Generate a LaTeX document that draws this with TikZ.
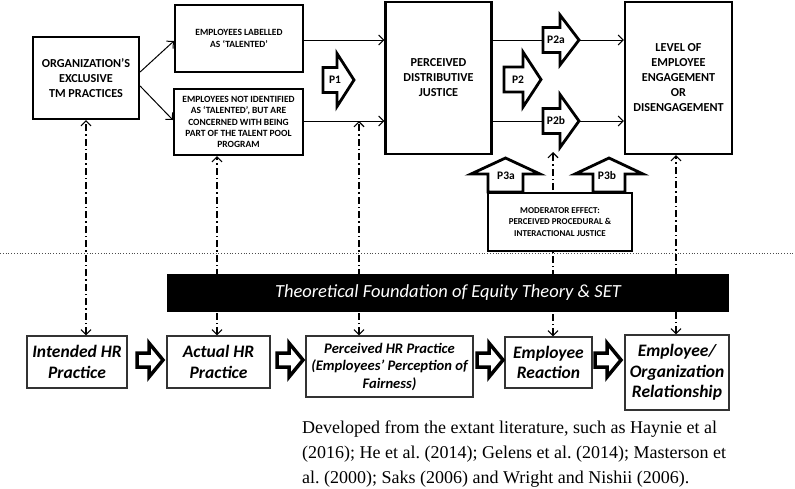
\documentclass[tikz,border=0pt]{standalone}
\usepackage{fontspec}
\setmainfont{Carlito}
\newfontfamily\capfont{Liberation Serif}
\usetikzlibrary{arrows.meta,calc}
\frenchspacing
\begin{document}
\begin{tikzpicture}[x=1pt,y=-1pt,
  topbox/.style={draw, line width=2.2pt, fill=white, align=center, inner sep=0pt, font=\bfseries\fontsize{12.2}{15}\selectfont},
  smallbox/.style={topbox, font=\bfseries\fontsize{9.5}{11.3}\selectfont},
  botbox/.style={draw=black!80, line width=1.2pt, fill=white, align=center, inner sep=0pt, font=\bfseries\itshape\fontsize{17.5}{20.5}\selectfont},
  conn/.style={line width=1pt, -{Straight Barb[length=5pt,width=10pt]}},
  dd/.style={line width=1.1pt, dash pattern=on 7pt off 3pt on 1.5pt off 3pt, {Straight Barb[length=5pt,width=10pt]}-{Straight Barb[length=5pt,width=10pt]}},
  blk/.style={draw, line width=2.8pt, fill=white, line join=miter},
  bblk/.style={draw, line width=3.5pt, fill=white, line join=miter},
  plab/.style={font=\bfseries\fontsize{11.5}{13}\selectfont, inner sep=0pt},
  pics/rblk/.style n args={5}{code={
    \draw[#5] (0,-#1) -- (#2,-#1) -- (#2,-#3) -- ({#2+#4},0) -- (#2,#3) -- (#2,#1) -- (0,#1) -- cycle;}},
  pics/ublk/.style n args={4}{code={
    \draw[blk] (-#1,0) -- (-#1,-#2) -- (-#3,-#2) -- (0,{-#2-#4}) -- (#3,-#2) -- (#1,-#2) -- (#1,0) -- cycle;}}
]
\useasboundingbox (0,0) rectangle (795,488);

% dotted separator
\draw[line width=0.8pt, dotted, black!70] (0,253) -- (795,253);

% top boxes
\node[topbox, minimum width=106pt, minimum height=82pt] (org) at (86,78) {ORGANIZATION’S\\EXCLUSIVE\\TM PRACTICES};
\node[smallbox, minimum width=128pt, minimum height=67pt] (lab) at (239,38.5) {EMPLOYEES LABELLED\\AS ‘TALENTED’};
\node[smallbox, minimum width=129pt, minimum height=66pt] (nid) at (238.5,122) {EMPLOYEES NOT IDENTIFIED\\AS ‘TALENTED’, BUT ARE\\CONCERNED WITH BEING\\PART OF THE TALENT POOL\\PROGRAM};
\node[topbox, minimum width=106pt, minimum height=152pt] (pdj) at (438.5,78) {PERCEIVED\\DISTRIBUTIVE\\JUSTICE};
\node[topbox, minimum width=107pt, minimum height=152pt] (lvl) at (678.5,78) {LEVEL OF\\EMPLOYEE\\ENGAGEMENT\\OR\\DISENGAGEMENT};

% bottom boxes
\node[botbox, minimum width=100pt, minimum height=52pt] (ihr) at (77,362) {Intended HR\\Practice};
\node[botbox, minimum width=103pt, minimum height=52pt] (ahr) at (218.5,362) {Actual HR\\Practice};
\node[botbox, minimum width=167pt, minimum height=61pt, font=\bfseries\itshape\fontsize{14.6}{17.5}\selectfont] (phr) at (389.5,366.5) {Perceived HR Practice\\(Employees’ Perception of\\Fairness)};
\node[botbox, minimum width=87pt, minimum height=51pt] (erc) at (548.5,362.5) {Employee\\Reaction};
\node[botbox, minimum width=104pt, minimum height=75pt] (eor) at (677,372.5) {Employee/\\Organization\\Relationship};

% connectors top
\draw[conn] ([yshift=6pt]org.east) -- ([yshift=-2.5pt]lab.west);
\draw[conn] ([yshift=-8pt]org.east) -- ([yshift=2pt]nid.west);
\draw[conn] (lab.east |- 0,40) -- (pdj.west |- 0,40);
\draw[conn] (nid.east |- 0,121) -- (pdj.west |- 0,121);
\draw[conn] (pdj.east |- 0,40) -- (lvl.west |- 0,40);
\draw[conn] (pdj.east |- 0,121) -- (lvl.west |- 0,121);

% dash-dot links
\coordinate (d3) at (359,121);
\coordinate (d4) at (553,152);
\draw[dd] (ihr.north -| org.south) -- (org.south);
\draw[dd] (ahr.north -| 217,0) -- (nid.south -| 217,0);
\draw[dd] (phr.north -| d3) -- (d3);
\draw[dd] (erc.north -| d4) -- (d4);
\draw[dd] (eor.north -| 676,0) -- (lvl.south -| 676,0);

% block arrows P
\pic at (323,80) {rblk={12.5}{14}{26.5}{17}{blk}};
\node[plab] (p1) at (335,80) {P1};
\pic at (543,40) {rblk={12.5}{17}{25}{19}{blk}};
\node[plab] (p2a) at (556,40) {P2a};
\pic at (504,79.5) {rblk={12.5}{19}{27.5}{18}{blk}};
\node[plab] (p2) at (518,79.5) {P2};
\pic at (543,121) {rblk={12.5}{17}{26.5}{19}{blk}};
\node[plab] (p2b) at (556,121) {P2b};

% moderator
\node[smallbox, line width=2pt, minimum width=144pt, minimum height=58pt, font=\bfseries\fontsize{9}{11.3}\selectfont] (mod) at (560,222) {MODERATOR EFFECT:\\PERCEIVED PROCEDURAL \&\\INTERACTIONAL JUSTICE};
\pic at (505.5,192) {ublk={17.5}{18}{34.5}{16}};
\node[plab] (p3a) at (506,176) {P3a};
\pic at (609,192) {ublk={16}{18}{34}{16}};
\node[plab] (p3b) at (607,176) {P3b};

% theoretical bar
\node[fill=black, text=white, minimum width=562pt, minimum height=38pt, inner sep=0pt, font=\itshape\fontsize{18.5}{20}\selectfont] (bar) at (448,293) {Theoretical Foundation of Equity Theory \& SET};

% bottom block arrows
\pic at (137,360) {rblk={7}{12}{17}{14}{bblk}};
\pic at (277,360) {rblk={7}{12}{17}{14}{bblk}};
\pic at (477,360) {rblk={7}{12}{17}{14}{bblk}};
\pic at (595,360) {rblk={7}{12}{17}{14}{bblk}};

% caption
\node[anchor=north west, inner sep=0pt, align=left, font=\capfont\fontsize{18}{25}\selectfont] (cap) at (302,420.5) {Developed from the extant literature, such as Haynie et al\\(2016); He et al. (2014); Gelens et al. (2014); Masterson et\\al. (2000); Saks (2006) and Wright and Nishii (2006).};
\end{tikzpicture}
\end{document}
